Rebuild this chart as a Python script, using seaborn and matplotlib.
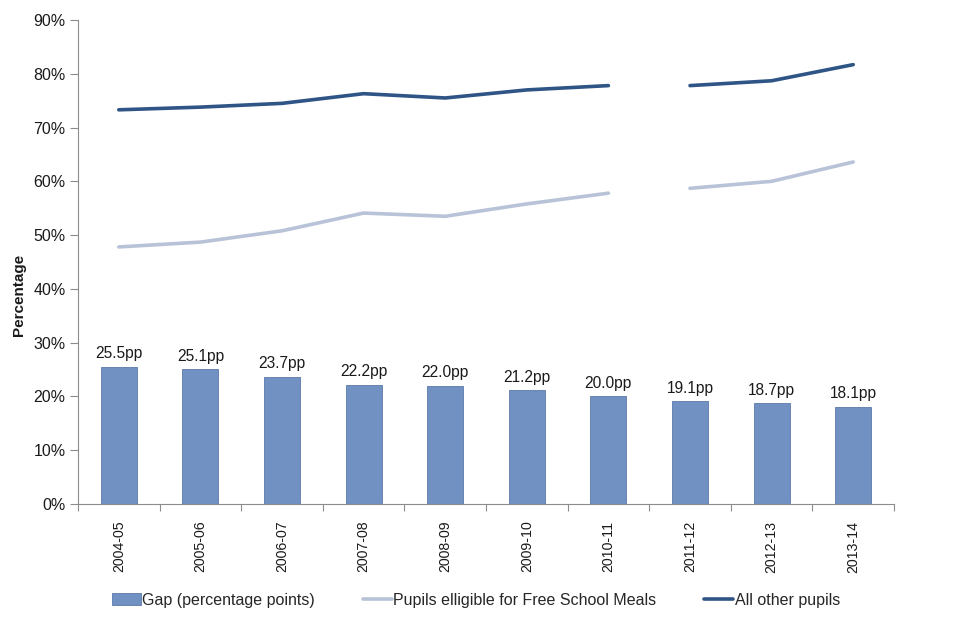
import matplotlib
matplotlib.use("Agg")
import matplotlib.pyplot as plt
import seaborn as sns
import pandas as pd
import numpy as np
from matplotlib.patches import Patch
from matplotlib.lines import Line2D
from matplotlib.ticker import FixedLocator, FuncFormatter

years = ["2004-05", "2005-06", "2006-07", "2007-08", "2008-09",
         "2009-10", "2010-11", "2011-12", "2012-13", "2013-14"]
gap = [25.5, 25.1, 23.7, 22.2, 22.0, 21.2, 20.0, 19.1, 18.7, 18.1]
fsm = [47.8, 48.7, 50.8, 54.1, 53.5, 55.8, 57.8, 58.7, 60.0, 63.6]
others = [73.3, 73.8, 74.5, 76.3, 75.5, 77.0, 77.8, 77.8, 78.7, 81.7]
segment = [1, 1, 1, 1, 1, 1, 1, 2, 2, 2]
gap_labels = [f"{v:.1f}pp" for v in gap]

sns.set_theme(style="white")
plt.rcParams['font.family'] = ['Liberation Sans', 'DejaVu Sans']

bar_color = "#7091C2"
fsm_color = "#B8C3D8"
oth_color = "#2F5486"
axis_color = "#8C8C8C"
text_color = "#1a1a1a"

fig = plt.figure(figsize=(9.6, 6.4), dpi=100)
ax = fig.add_axes([78/960, 1-504/640, (894-78)/960, (504-20)/640])

df = pd.DataFrame({"year": years, "gap": gap, "fsm": fsm, "others": others,
                   "segment": segment, "pos": np.arange(len(years))})

sns.barplot(data=df, x="year", y="gap", color=bar_color, width=0.44,
            edgecolor="#5B79A8", linewidth=0.6, saturation=1, ax=ax)

for seg in sorted(set(segment)):
    sub = df[df["segment"] == seg]
    sns.lineplot(x=sub["pos"].values, y=sub["fsm"].values, color=fsm_color,
                 linewidth=2.6, ax=ax)
    sns.lineplot(x=sub["pos"].values, y=sub["others"].values, color=oth_color,
                 linewidth=2.6, ax=ax)

for i, (v, lab) in enumerate(zip(gap, gap_labels)):
    ax.text(i, v + 1.0, lab, ha="center", va="bottom", fontsize=11.2, color=text_color)

ax.set_xlim(-0.5, len(years) - 0.5)
ax.set_ylim(0, 90)
ax.yaxis.set_major_locator(FixedLocator(np.arange(0, 91, 10)))
ax.yaxis.set_major_formatter(FuncFormatter(lambda v, p: f"{int(v)}%"))
ax.set_xticks(np.arange(len(years)))
ax.set_xticklabels(years, rotation=90, fontsize=10.2, color=text_color)
ax.set_xticks(np.arange(-0.5, len(years), 1.0), minor=True)
ax.tick_params(axis="x", which="major", length=0, pad=12)
ax.tick_params(axis="x", which="minor", length=5, width=0.8, color=axis_color, direction="out", bottom=True)
ax.tick_params(axis="y", which="major", length=6, width=0.8, color=axis_color, direction="out",
               left=True, labelsize=11.5, labelcolor=text_color, pad=3)

for side in ["top", "right"]:
    ax.spines[side].set_visible(False)
for side in ["left", "bottom"]:
    ax.spines[side].set_color(axis_color)
    ax.spines[side].set_linewidth(0.8)

ax.set_xlabel("")
ax.set_ylabel("Percentage", fontsize=11, fontweight="bold", color=text_color)
ax.yaxis.set_label_coords(-0.064, 0.432)
ax.grid(False)

handles = [Patch(facecolor=bar_color, edgecolor="#5B79A8", linewidth=0.6),
           Line2D([0], [0], color=fsm_color, linewidth=2.6),
           Line2D([0], [0], color=oth_color, linewidth=2.6)]
labels = ["Gap (percentage points)", "Pupils elligible for Free School Meals", "All other pupils"]
fig.legend(handles, labels, loc="center", bbox_to_anchor=(476/960, 1-600/640), ncol=3,
           frameon=False, fontsize=11.5, handlelength=1.8, handletextpad=0.1,
           columnspacing=3.0)

fig.savefig("out.png", dpi=100)
